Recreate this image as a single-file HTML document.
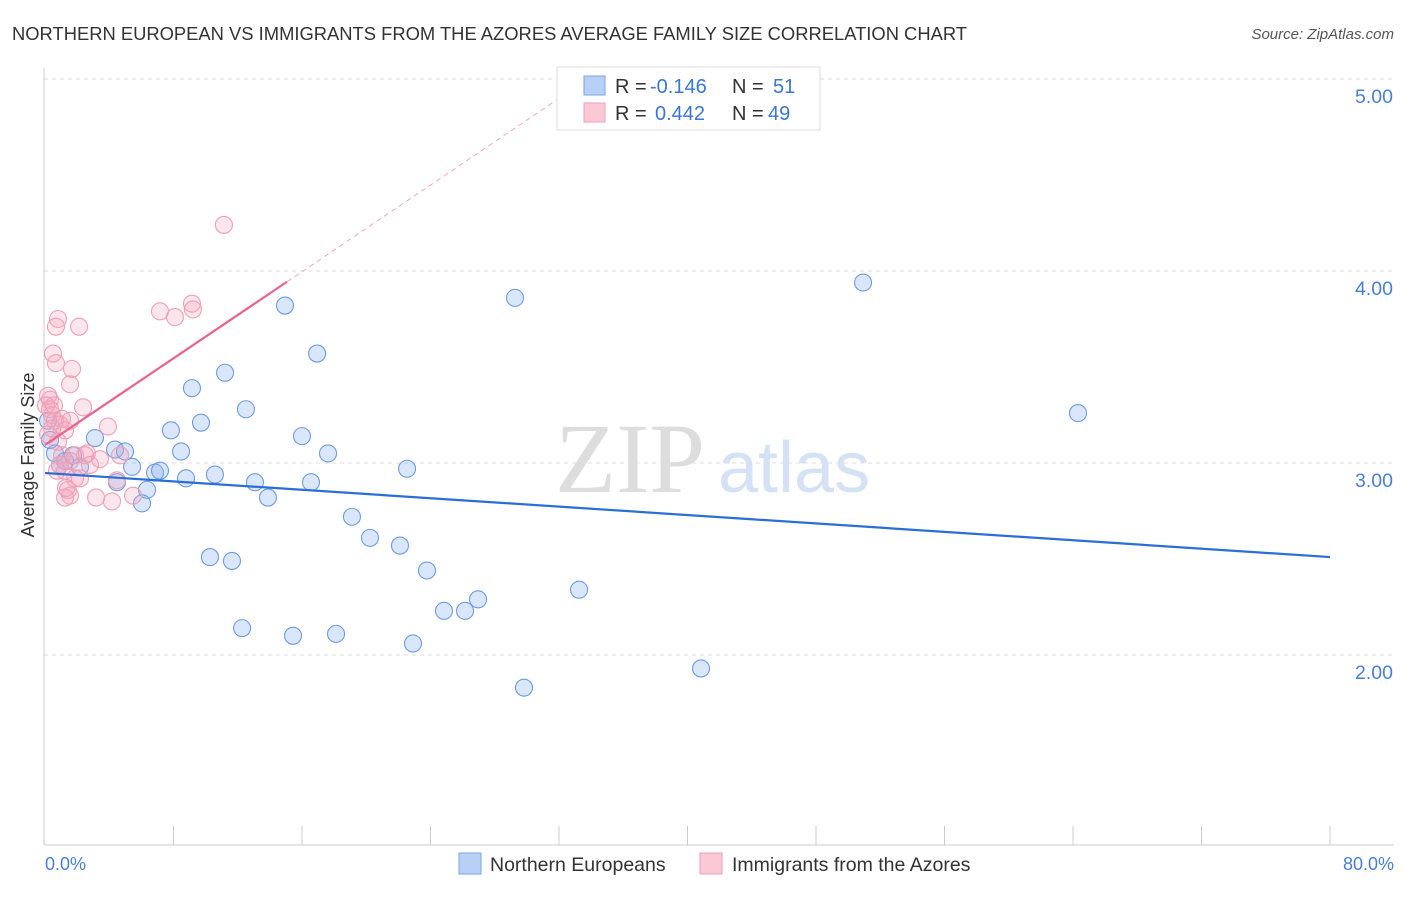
<!DOCTYPE html>
<html><head><meta charset="utf-8"><style>
body{margin:0;background:#fff;font-family:"Liberation Sans",sans-serif}
</style></head><body>
<svg width="1406" height="892" xmlns="http://www.w3.org/2000/svg" font-family="Liberation Sans, sans-serif">
<text x="12" y="40" font-size="18.4" fill="#333" textLength="955" lengthAdjust="spacingAndGlyphs">NORTHERN EUROPEAN VS IMMIGRANTS FROM THE AZORES AVERAGE FAMILY SIZE CORRELATION CHART</text>
<text x="1394" y="39" font-size="15" fill="#555" font-style="italic" text-anchor="end">Source: ZipAtlas.com</text>
<text x="555" y="492" font-size="100" fill="#ddd" font-family="Liberation Serif, serif">ZIP</text>
<text x="718" y="492" font-size="72" fill="#d5e2f5">atlas</text>
<g id="grid"></g>
<line x1="44" y1="68" x2="44" y2="845" stroke="#ccc"/>
<line x1="44" y1="845" x2="1394" y2="845" stroke="#ccc"/>
<g id="xticks"></g>
<text transform="translate(34,455) rotate(-90)" font-size="18" fill="#333" text-anchor="middle">Average Family Size</text>
<text x="45" y="870" font-size="18" fill="#4a7fd4">0.0%</text>
<text x="1394" y="870" font-size="18" fill="#4a7fd4" text-anchor="end">80.0%</text>
<g id="pts"></g>
<g id="lines"></g>
<g>
<rect x="557" y="67" width="263" height="63" fill="#fff" stroke="#ddd"/>
<rect x="584" y="76" width="21" height="19" fill="#b8d0f5" stroke="#7aa6e6"/>
<rect x="584" y="103" width="21" height="19" fill="#fbc8d6" stroke="#eea0b8"/>
<text x="615" y="93" font-size="20" fill="#333">R = <tspan x="650" fill="#3a76d4">-0.146</tspan><tspan x="732">N = </tspan><tspan x="773" fill="#3a76d4">51</tspan></text>
<text x="615" y="120" font-size="20" fill="#333">R = <tspan x="655" fill="#3a76d4">0.442</tspan><tspan x="732">N = </tspan><tspan x="768" fill="#3a76d4">49</tspan></text>
</g>
<g>
<rect x="459" y="853" width="22" height="21" fill="#b8d0f5" stroke="#7aa6e6"/>
<text x="490" y="871" font-size="19.5" fill="#333">Northern Europeans</text></g>
<g>
<rect x="700" y="853" width="22" height="21" fill="#fbc8d6" stroke="#eea0b8"/>
<text x="732" y="871" font-size="19.5" fill="#333">Immigrants from the Azores</text></g>
</svg>
<script>
const yTicks=[5,4,3,2];
const yTickLabels=["5.00","4.00","3.00","2.00"];
const blueX=[0.62,3.11,4.36,4.98,5.42,2.18,1.25,6.35,6.04,6.85,7.16,4.48,7.84,8.47,8.78,9.15,9.71,10.58,11.21,12.51,13.07,13.88,14.94,16.0,16.94,16.56,17.62,19.11,20.23,22.10,22.54,23.78,24.84,26.15,26.96,29.26,33.25,10.27,11.64,12.27,15.44,18.12,22.91,29.82,40.84,50.93,64.31,0.19,0.31,0.93,1.74];
const blueY=[3.05,3.13,3.07,3.06,2.98,2.98,3.01,2.86,2.79,2.95,2.96,2.90,3.17,3.06,2.92,3.39,3.21,2.94,3.47,3.28,2.90,2.82,3.82,3.14,3.57,2.90,3.05,2.72,2.61,2.57,2.97,2.44,2.23,2.23,2.29,3.86,2.34,2.51,2.49,2.14,2.10,2.11,2.06,1.83,1.93,3.94,3.26,3.22,3.12,2.99,3.04];
const pinkX=[11.14,7.16,8.09,9.15,9.21,0.81,0.68,2.12,0.50,0.68,1.68,1.56,0.19,0.31,0.44,2.37,0.62,0.93,1.25,3.92,1.06,1.87,2.61,0.93,1.25,1.87,2.18,1.43,1.56,1.25,3.18,4.17,5.48,4.48,0.31,0.19,0.81,1.06,0.44,1.56,2.80,2.49,0.06,0.56,0.75,1.31,3.42,4.67,1.56];
const pinkY=[4.24,3.79,3.76,3.83,3.80,3.75,3.71,3.71,3.57,3.52,3.49,3.41,3.35,3.28,3.25,3.29,3.22,3.20,3.17,3.19,3.04,3.04,3.05,2.99,2.96,2.92,2.92,2.86,2.83,2.82,2.82,2.80,2.83,2.91,3.33,3.15,3.11,3.23,3.18,3.01,2.99,3.04,3.30,3.30,2.96,2.87,3.02,3.04,3.22];
const blueTrend=[2.948,2.510];
const pinkTrend=[3.094,0.0564];
const X=v=>45+v/80*1285, Y=v=>79+(5-v)*192;
const NS="http://www.w3.org/2000/svg";
function mk(p,t,a){const e=document.createElementNS(NS,t);for(const k in a)e.setAttribute(k,a[k]);p.appendChild(e);return e;}
const grid=document.getElementById('grid');
yTicks.forEach((t,i)=>{
 const l=mk(grid,'line',{x1:44,x2:1394,y1:Y(t),y2:Y(t),stroke:'#ddd','stroke-dasharray':'4,4'});
 
 
 const tx=mk(grid,'text',{x:1393,y:Y(t)+24,'font-size':19.5,fill:'#4a7fd4','text-anchor':'end'});
 tx.textContent=yTickLabels[i];
 
 
});
const xt=document.getElementById('xticks');
for(let i=1;i<=10;i++){
 const l=mk(xt,'line',{x1:X(i*8),x2:X(i*8),y1:826,y2:845,stroke:'#ccc'});
 
 
}
const pts=document.getElementById('pts');
blueX.forEach((x,i)=>{const c=mk(pts,'circle',{cx:X(x),cy:Y(blueY[i]),r:8.5,fill:'rgba(140,178,238,0.32)',stroke:'#6d9ce0','stroke-width':1.1});
 
 });
pinkX.forEach((x,i)=>{const c=mk(pts,'circle',{cx:X(x),cy:Y(pinkY[i]),r:8.5,fill:'rgba(245,165,190,0.28)',stroke:'#eea0b6','stroke-width':1.1});
 
 });
const ln=document.getElementById('lines');
const b=mk(ln,'line',{x1:X(0),y1:Y(blueTrend[0]),x2:X(80),y2:Y(blueTrend[1]),stroke:'#2a6fd6','stroke-width':2.2});


const pend=15.07, ptop=(5-pinkTrend[0])/pinkTrend[1];
const p=mk(ln,'line',{x1:X(0),y1:Y(pinkTrend[0]),x2:X(pend),y2:Y(pinkTrend[0]+pinkTrend[1]*pend),stroke:'#e8648e','stroke-width':2.2});


const pd=mk(ln,'line',{x1:X(pend),y1:Y(pinkTrend[0]+pinkTrend[1]*pend),x2:X(ptop),y2:Y(5),stroke:'#f0a8bd','stroke-width':1,'stroke-dasharray':'5,4'});


</script>
</body></html>
